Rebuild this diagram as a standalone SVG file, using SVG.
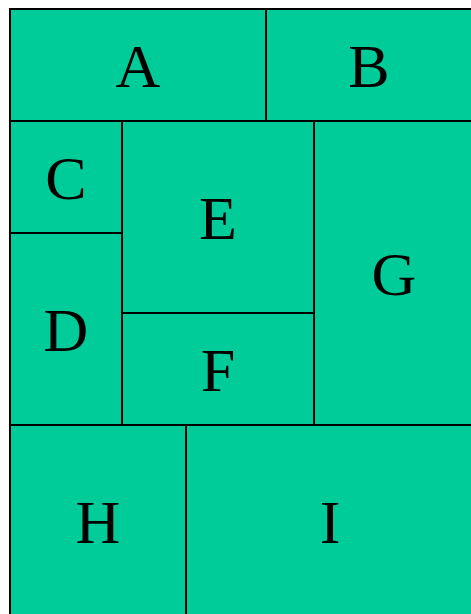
<svg xmlns="http://www.w3.org/2000/svg" width="471" height="614" viewBox="0 0 471 614">
<style>
.cell{fill:#00CC99;stroke:#000;stroke-width:2}
.lbl{font-family:"Liberation Serif","Times New Roman",serif;font-size:62px;fill:#000;text-anchor:middle}
</style>
<rect x="0" y="0" width="471" height="614" fill="#fff"/>
<g id="A"><rect class="cell" x="10" y="9" width="256" height="112"/><text class="lbl" x="138" y="87">A</text></g>
<g id="B"><rect class="cell" x="266" y="9" width="210" height="112"/><text class="lbl" x="369" y="87">B</text></g>
<g id="C"><rect class="cell" x="10" y="121" width="112" height="112"/><text class="lbl" x="66" y="199">C</text></g>
<g id="D"><rect class="cell" x="10" y="233" width="112" height="192"/><text class="lbl" x="66" y="351">D</text></g>
<g id="E"><rect class="cell" x="122" y="121" width="192" height="192"/><text class="lbl" x="218" y="239">E</text></g>
<g id="F"><rect class="cell" x="122" y="313" width="192" height="112"/><text class="lbl" x="218" y="391">F</text></g>
<g id="G"><rect class="cell" x="314" y="121" width="162" height="304"/><text class="lbl" x="394" y="295">G</text></g>
<g id="H"><rect class="cell" x="10" y="425" width="176" height="195"/><text class="lbl" x="98" y="543">H</text></g>
<g id="I"><rect class="cell" x="186" y="425" width="290" height="195"/><text class="lbl" x="330" y="543">I</text></g>
<g id="connectors"></g>
</svg>
